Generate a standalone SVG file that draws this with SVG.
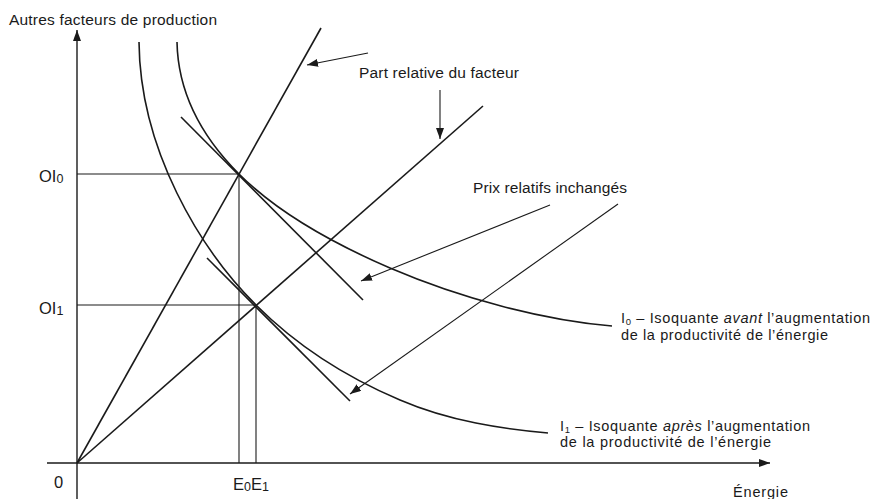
<svg xmlns="http://www.w3.org/2000/svg" width="873" height="499" viewBox="0 0 873 499">
<defs>
<marker id="ah" markerUnits="userSpaceOnUse" markerWidth="11" markerHeight="8" refX="11" refY="4" orient="auto">
<path d="M0,0 L11,4 L0,8 z" fill="#1a1a1a"/>
</marker>
</defs>
<style>
.ax{stroke:#1a1a1a;stroke-width:1.4;fill:none}
.g{stroke:#1a1a1a;stroke-width:1.1;fill:none}
.c{stroke:#1a1a1a;stroke-width:1.6;fill:none}
.a{stroke:#1a1a1a;stroke-width:1.1;fill:none;marker-end:url(#ah)}
text{font-family:"Liberation Sans",Arial,sans-serif;fill:#1a1a1a}
.t{font-size:15.5px}
.s{font-size:14.5px}
.v{font-size:16.5px}
</style>
<rect width="873" height="499" fill="#fff"/>
<g id="connectors">
<line class="ax" x1="77" y1="499" x2="77" y2="30" marker-end="url(#ah)"/>
<line class="ax" x1="47" y1="463" x2="770" y2="463" marker-end="url(#ah)"/>
<line class="g" x1="77" y1="174" x2="239" y2="174"/>
<line class="g" x1="239" y1="174" x2="239" y2="463"/>
<line class="g" x1="77" y1="305" x2="256" y2="305"/>
<line class="g" x1="256" y1="305" x2="256" y2="463"/>
<line class="c" x1="77" y1="463" x2="321" y2="28"/>
<line class="c" x1="77" y1="463" x2="483" y2="106"/>
<line class="c" x1="181" y1="117" x2="363" y2="300"/>
<line class="c" x1="207" y1="258" x2="350" y2="401"/>
<path class="c" d="M177,42 C178,95 204,139 239,174 C279,214 340,246.5 390,268 C460,298 542,320 612,326"/>
<path class="c" d="M139,42 C140,150 200,249 256,305 C301,350 355,381 400,400 C450,421.5 503,429 548,433"/>
<line class="a" x1="368" y1="53" x2="307" y2="65"/>
<line class="a" x1="440" y1="90" x2="440" y2="139"/>
<line class="a" x1="550" y1="205" x2="361" y2="281"/>
<line class="a" x1="618" y1="204" x2="350" y2="394"/>
</g>
<g id="labels">
<text class="t" x="9" y="25" textLength="208" lengthAdjust="spacing">Autres facteurs de production</text>
<text class="t" x="359" y="78" textLength="160" lengthAdjust="spacing">Part relative du facteur</text>
<text class="t" x="473" y="193" textLength="154" lengthAdjust="spacing">Prix relatifs inchangés</text>
<text class="v" x="39" y="182">OI<tspan font-size="12.5" dy="1">0</tspan></text>
<text class="v" x="39" y="314">OI<tspan font-size="12.5" dy="1">1</tspan></text>
<text class="v" x="54" y="488">0</text>
<text class="v" x="233" y="490">E<tspan font-size="12.5" dy="1">0</tspan><tspan dy="-1">E</tspan><tspan font-size="12.5" dy="1">1</tspan></text>
<text class="s" x="733" y="497" textLength="55" lengthAdjust="spacing">Énergie</text>
<text class="s" x="621" y="323" textLength="249" lengthAdjust="spacing">I<tspan font-size="9.5" dy="1.5">0</tspan><tspan dy="-1.5"> – Isoquante </tspan><tspan font-style="italic">avant</tspan> l’augmentation</text>
<text class="s" x="621" y="340" textLength="207" lengthAdjust="spacing">de la productivité de l’énergie</text>
<text class="s" x="560" y="431" textLength="250" lengthAdjust="spacing">I<tspan font-size="9.5" dy="1.5">1</tspan><tspan dy="-1.5"> – Isoquante </tspan><tspan font-style="italic">après</tspan> l’augmentation</text>
<text class="s" x="560" y="447" textLength="211" lengthAdjust="spacing">de la productivité de l’énergie</text>
</g>
</svg>
